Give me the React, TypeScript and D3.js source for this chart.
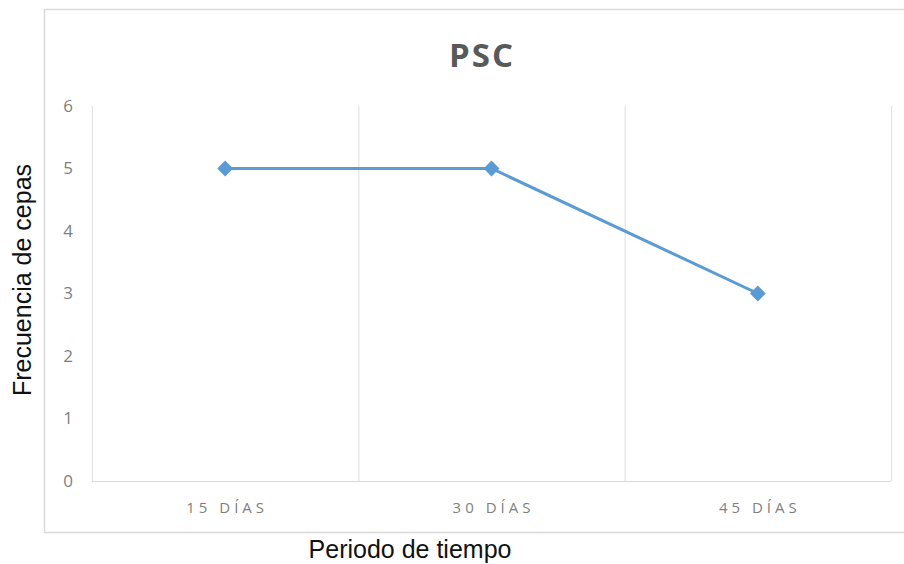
import React, { useEffect, useRef } from 'react';
import * as d3 from 'd3';

const categories = ['15 DÍAS', '30 DÍAS', '45 DÍAS'];
const values = [5, 5, 3];
const yTicks = [0, 1, 2, 3, 4, 5, 6];
const chartTitle = 'PSC';
const xTitle = 'Periodo de tiempo';
const yTitle = 'Frecuencia de cepas';

export default function App() {
    const svgRef = useRef<SVGSVGElement>(null);

    useEffect(() => {
        const svg = d3.select(svgRef.current);
        svg.selectAll('*').remove();

        const left = 92;
        const right = 891;
        const top = 106;
        const bottom = 481;

        // outer chart frame
        svg.append('rect')
            .attr('x', 44.5)
            .attr('y', 9.5)
            .attr('width', 880)
            .attr('height', 523)
            .attr('fill', '#fff')
            .attr('stroke', '#d9d9d9')
            .attr('stroke-width', 1.5);

        const x = d3.scaleBand().domain(categories).range([left, right]);
        const y = d3.scaleLinear().domain([0, 6]).range([bottom, top]);

        // vertical category gridlines
        const edges = categories.map((c) => x(c) as number).concat([right]);
        svg.append('g')
            .selectAll('line')
            .data(edges)
            .enter()
            .append('line')
            .attr('x1', (d) => d + 0.5)
            .attr('x2', (d) => d + 0.5)
            .attr('y1', top)
            .attr('y2', bottom)
            .attr('stroke', '#e3e3e3')
            .attr('stroke-width', 1.2);

        // baseline
        svg.append('line')
            .attr('x1', left)
            .attr('x2', right)
            .attr('y1', y(0) + 0.5)
            .attr('y2', y(0) + 0.5)
            .attr('stroke', '#d9d9d9')
            .attr('stroke-width', 1.2);

        svg.append('g')
            .selectAll('text')
            .data(yTicks)
            .enter()
            .append('text')
            .attr('x', 68)
            .attr('y', (d) => y(d))
            .attr('dy', '0.35em')
            .attr('text-anchor', 'middle')
            .attr('font-family', '"Open Sans", sans-serif')
            .attr('font-size', 17)
            .attr('fill', '#7f7f7f')
            .text((d) => d);

        svg.append('g')
            .selectAll('text')
            .data(categories)
            .enter()
            .append('text')
            .attr('x', (d) => (x(d) as number) + x.bandwidth() / 2 + 2)
            .attr('y', 513)
            .attr('text-anchor', 'middle')
            .attr('font-family', '"Open Sans", sans-serif')
            .attr('font-size', 15)
            .attr('letter-spacing', '4px')
            .attr('fill', '#7f7f7f')
            .text((d) => d);

        const line = d3
            .line<number>()
            .x((d, i) => (x(categories[i]) as number) + x.bandwidth() / 2)
            .y((d) => y(d));

        svg.append('path')
            .datum(values)
            .attr('fill', 'none')
            .attr('stroke', '#5b9bd5')
            .attr('stroke-width', 3)
            .attr('d', line);

        svg.append('g')
            .selectAll('path')
            .data(values)
            .enter()
            .append('path')
            .attr('d', d3.symbol().type(d3.symbolDiamond2).size(160))
            .attr('transform', (d, i) => `translate(${(x(categories[i]) as number) + x.bandwidth() / 2},${y(d)})`)
            .attr('fill', '#5b9bd5');

        svg.append('text')
            .attr('x', 482)
            .attr('y', 67)
            .attr('text-anchor', 'middle')
            .attr('font-family', '"Open Sans", sans-serif')
            .attr('font-weight', 'bold')
            .attr('font-size', 33)
            .attr('letter-spacing', '2px')
            .attr('fill', '#595959')
            .text(chartTitle);

        svg.append('text')
            .attr('x', 410)
            .attr('y', 558)
            .attr('text-anchor', 'middle')
            .attr('font-family', '"Liberation Sans", Arial, sans-serif')
            .attr('font-size', 25)
            .attr('fill', '#111')
            .text(xTitle);

        svg.append('text')
            .attr('transform', 'translate(31,280) rotate(-90)')
            .attr('text-anchor', 'middle')
            .attr('font-family', '"Liberation Sans", Arial, sans-serif')
            .attr('font-size', 25)
            .attr('fill', '#111')
            .text(yTitle);
    }, []);

    return (
        <div style={{ position: 'fixed', left: 0, top: 0, width: 904, height: 564, background: '#fff' }}>
            <svg ref={svgRef} width={904} height={564} style={{ display: 'block' }} />
        </div>
    );
}
